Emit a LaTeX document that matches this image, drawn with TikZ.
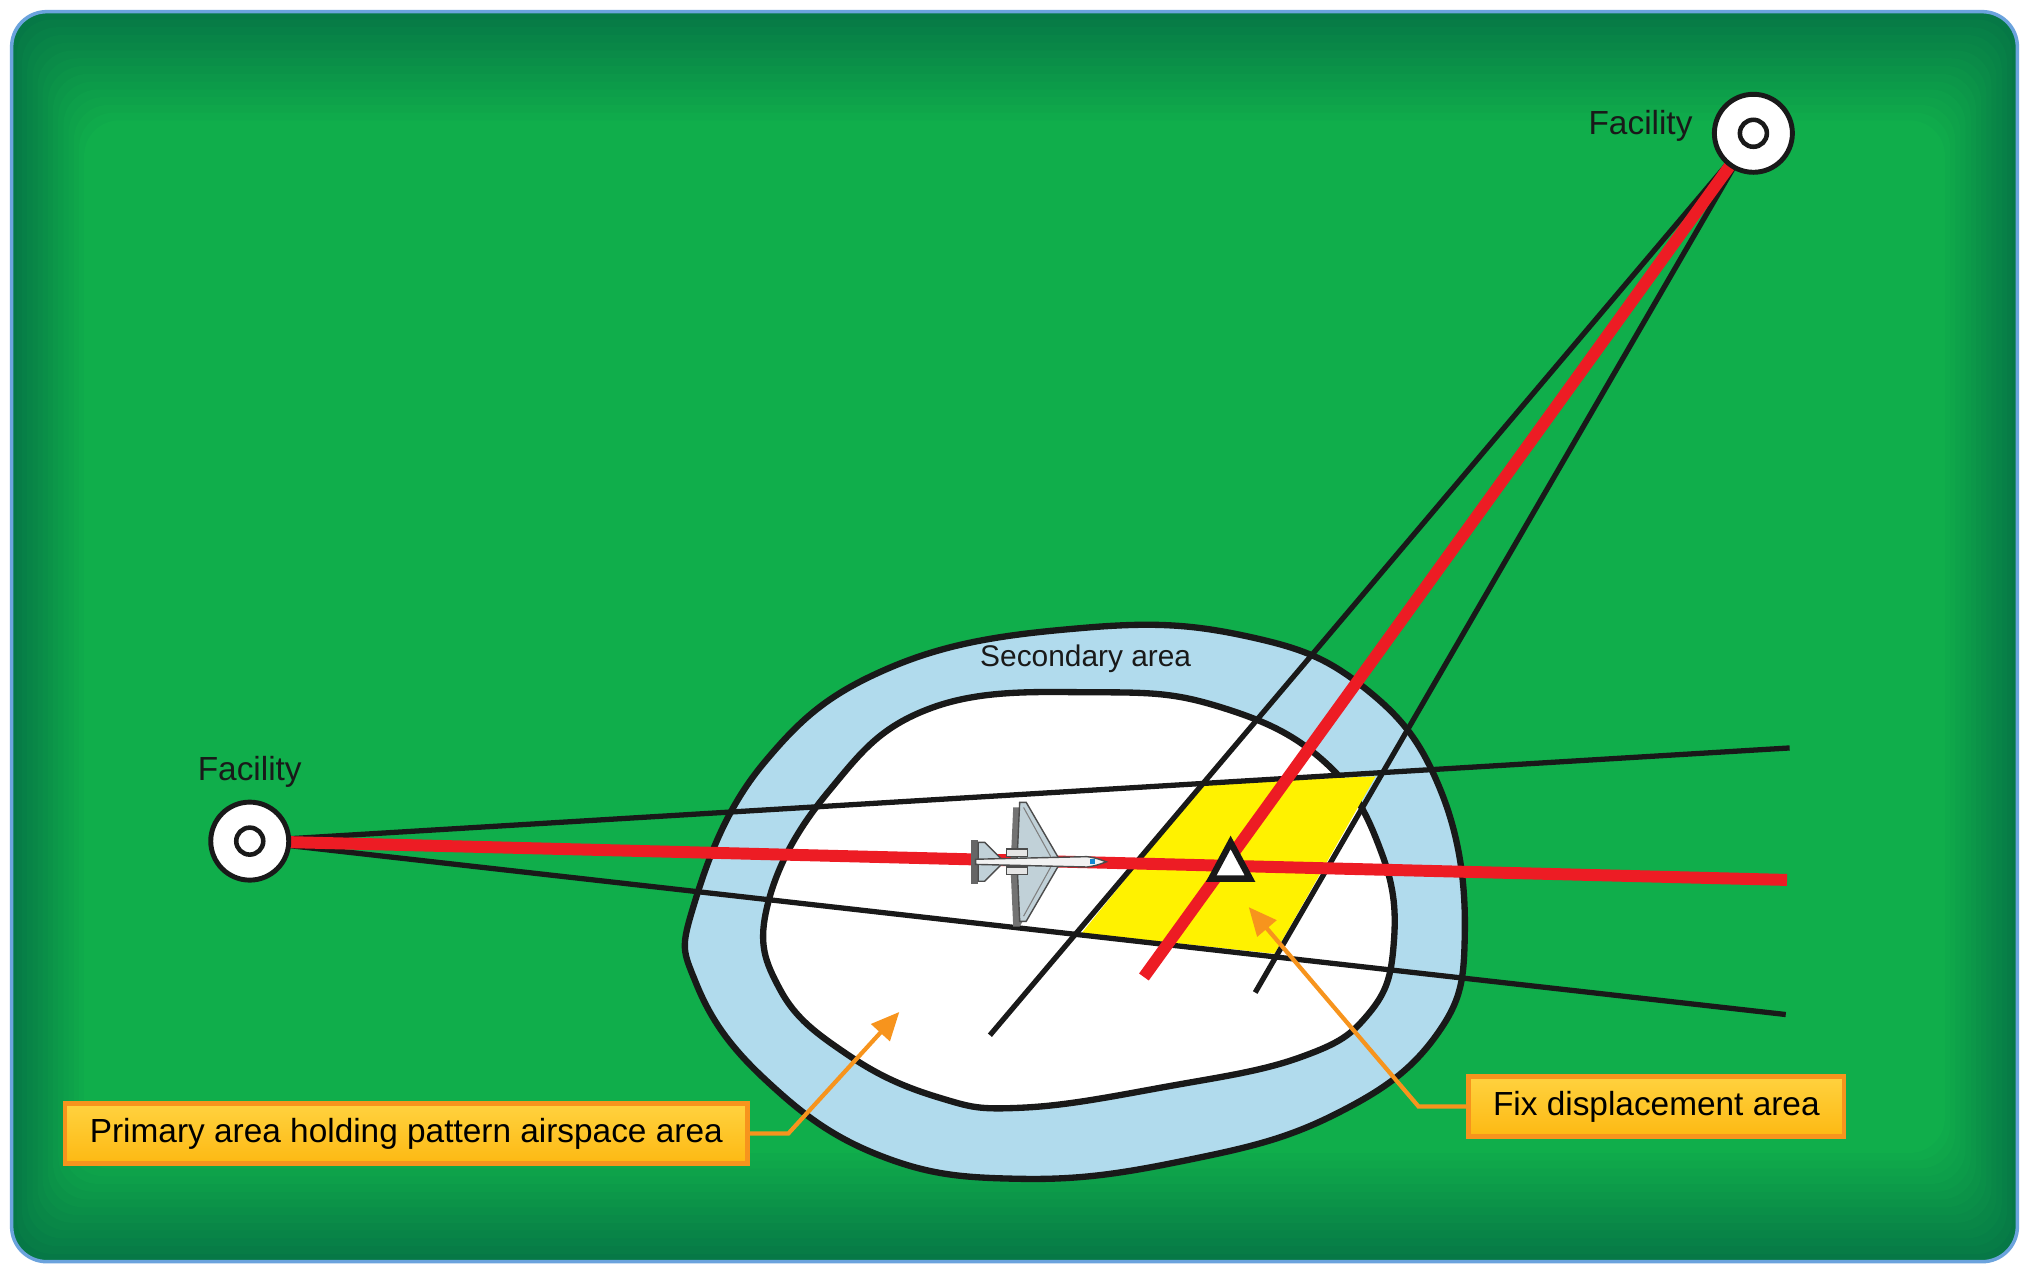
\documentclass[tikz,border=0pt]{standalone}
\usepackage{fontspec}
\setmainfont{Liberation Sans}
\usetikzlibrary{positioning,arrows.meta,calc}
\definecolor{bgdark}{HTML}{067846}
\definecolor{bglight}{HTML}{10AE4B}
\definecolor{secblue}{HTML}{B1DBED}
\definecolor{fixyellow}{HTML}{FFF200}
\definecolor{holdred}{HTML}{ED1C24}
\definecolor{callorange}{HTML}{F7941D}
\definecolor{boxtop}{HTML}{FFD23F}
\definecolor{boxbot}{HTML}{FDB913}
\tikzset{
  facility/.style={circle,draw=black!90,line width=1.4pt,fill=white,minimum size=0.78cm},
  hub/.style={circle,draw=black!90,line width=1.3pt,fill=white,minimum size=0.27cm,inner sep=0pt},
  radial/.style={draw=black!90,line width=1.5pt},
  course/.style={draw=holdred,line width=3.4pt},
  callout/.style={draw=callorange,line width=1.2pt,top color=boxtop,bottom color=boxbot,
    font=\fontsize{9.5}{11}\selectfont,inner xsep=7pt,minimum height=0.6cm},
  pointer/.style={draw=callorange,line width=1.2pt,-{Triangle[length=8pt,width=7pt]}},
  lbl/.style={font=\fontsize{9.5}{11}\selectfont,text=black!90},
  wing/.style={fill=cyan!25!gray!45,draw=black!70,line width=0.4pt}
}
\begin{document}
\begin{tikzpicture}[x=0.01294cm,y=-0.01294cm]
\useasboundingbox (0,0) rectangle (1568,983);
% background
\fill[white] (0,0) rectangle (1568,983);
\draw[draw=cyan!60!blue!60,line width=1pt,fill=bgdark,rounded corners=10pt] (9,9) rectangle (1559,975);
\foreach \i in {1,...,14}{
  \pgfmathsetmacro{\mix}{\i*100/14}
  \fill[bglight!\mix!bgdark,rounded corners=10pt]
    ($(9,9)+(\i*4,\i*6)$) rectangle ($(1559,975)-(\i*4,\i*6)$);
}
% holding areas
\draw[line width=1.8pt,draw=black!90,fill=secblue] plot[smooth cycle,tension=0.7] coordinates
 {(536,700) (590,590) (690,515) (840,485) (965,492) (1055,532) (1113,610) (1132,720)
  (1110,800) (1030,862) (915,897) (790,911) (680,893) (590,833) (538,760)};
\draw[line width=1.8pt,draw=black!90,fill=white] plot[smooth cycle,tension=0.7] coordinates
 {(593,700) (640,612) (720,547) (850,535) (945,547) (1025,590) (1068,660) (1077,730)
  (1058,783) (1005,817) (900,840) (790,856) (725,848) (655,815) (603,765)};
% fix displacement area
\fill[fixyellow] (836,721) -- (930,605) -- (1063,600) -- (985,737) -- cycle;
% facilities
\coordinate (wf) at (193,650);
\coordinate (ef) at (1355,103);
\coordinate (wn) at (1383,578);
\coordinate (wc) at (1381,680);
\coordinate (ws) at (1380,784);
\coordinate (ew) at (765,800);
\coordinate (ec) at (884,755);
\coordinate (ee) at (970,767);
% radials
\draw[radial] (wf) -- (wn);
\draw[radial] (wf) -- (ws);
\draw[radial] (ef) -- (ew);
\draw[radial] (ef) -- (ee);
\draw[course] (wf) -- (wc);
\draw[course] (ef) -- (ec);
\node[facility] (west) at (wf) {};
\node[hub] at (west) {};
\node[lbl,above=0pt of west] {Facility};
\node[facility] (east) at (ef) {};
\node[hub] at (east) {};
\node[lbl,left=2pt of east,yshift=2pt] {Facility};
% airplane
\begin{scope}[shift={(800,666)}]
  \fill[black!55,shift={(-5,4)}] (-14,-2) -- (-12,-46) -- (-7,-46) -- (18,-3) -- (18,3) -- (-7,46) -- (-12,46) -- (-14,2) -- cycle;
  \fill[black!60] (-50,-17) -- (-44,-17) -- (-44,17) -- (-50,17) -- cycle;
  \filldraw[wing] (-44,0) -- (-44,-15) -- (-39,-15) -- (-26,-2) -- (-26,2) -- (-39,15) -- (-44,15) -- cycle;
  \filldraw[wing] (-14,-2) -- (-12,-46) -- (-7,-46) -- (18,-3) -- (18,3) -- (-7,46) -- (-12,46) -- (-14,2) -- cycle;
  \draw[black!50,line width=0.3pt] (-9,-42) -- (12,-4) (-9,42) -- (12,4);
  \filldraw[fill=gray!20,draw=black!70,line width=0.4pt] (-22,-10) rectangle (-6,-4);
  \filldraw[fill=gray!20,draw=black!70,line width=0.4pt] (-22,4) rectangle (-6,10);
  \filldraw[fill=gray!10,draw=black!70,line width=0.4pt]
    (-46,-2) -- (40,-4) .. controls (48,-3) and (52,-1) .. (55,0) .. controls (52,1) and (48,3) .. (40,4) -- (-46,2) -- cycle;
  \fill[cyan!70!blue] (42,-2) rectangle (46,2);
\end{scope}
% fix
\draw[line width=1.8pt,draw=black!90,fill=white] (951,651) -- (966,679) -- (936,679) -- cycle;
\node[font=\fontsize{8.5}{10}\selectfont,text=black!90] at (839,509) {Secondary area};
% callouts
\node[callout] (primary) at (314,876) {Primary area holding pattern airspace area};
\node[callout] (fixarea) at (1280,855) {Fix displacement area};
\coordinate (pa) at (695,782);
\coordinate (fa) at (965,701);
\draw[pointer] (primary.east) -- ++(30,0) -- (pa);
\draw[pointer] (fixarea.west) -- ++(-37,0) -- (fa);
\end{tikzpicture}
\end{document}
